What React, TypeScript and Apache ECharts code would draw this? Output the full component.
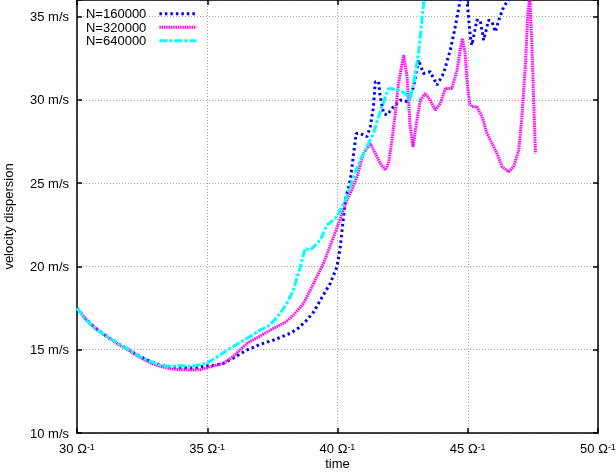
import React, { useEffect, useRef } from "react";
import * as echarts from "echarts";

const seriesNames = ["N=160000", "N=320000", "N=640000"];

const xTicks = [30, 35, 40, 45, 50];
const yTicks = [10, 15, 20, 25, 30, 35];

const n160000: number[][] = [
  [30.0, 17.5], [30.3, 16.9], [30.63, 16.4], [31.0, 15.95], [31.27, 15.68], [31.6, 15.35],
  [31.91, 15.08], [32.2, 14.8], [32.55, 14.5], [32.9, 14.25], [33.19, 14.08], [33.6, 13.98],
  [34.0, 13.92], [34.4, 13.9], [34.98, 14.02], [35.3, 14.08], [35.62, 14.18], [36.0, 14.5],
  [36.52, 14.98], [37.0, 15.3], [37.54, 15.58], [38.18, 15.98], [38.5, 16.3], [38.82, 16.78],
  [39.1, 17.3], [39.34, 17.98], [39.72, 18.98], [39.98, 19.98], [40.1, 21.09], [40.3, 23.98],
  [40.49, 25.18], [40.62, 26.79], [40.72, 27.99], [40.87, 27.99], [41.13, 27.79], [41.26, 28.39],
  [41.38, 29.59], [41.45, 31.09], [41.58, 31.09], [41.64, 30.19], [41.77, 29.19], [41.9, 29.09],
  [42.15, 29.59], [42.41, 29.99], [42.73, 29.89], [42.92, 30.79], [43.11, 32.4], [43.3, 31.59],
  [43.56, 31.69], [43.82, 30.89], [44.07, 31.59], [44.33, 32.99], [44.52, 34.39], [44.71, 36.0],
  [44.85, 36.8], [44.97, 36.0], [45.03, 35.0], [45.1, 33.79], [45.16, 33.29], [45.35, 34.79],
  [45.48, 34.79], [45.61, 33.59], [45.8, 34.79], [45.93, 34.69], [46.06, 34.09], [46.19, 34.79],
  [46.38, 35.6], [46.57, 36.0], [46.75, 36.6],
];

const n320000: number[][] = [
  [30.0, 17.5], [30.3, 16.9], [30.63, 16.38], [31.0, 15.95], [31.27, 15.66], [31.6, 15.3],
  [31.91, 15.05], [32.2, 14.75], [32.55, 14.42], [32.9, 14.15], [33.19, 14.0], [33.6, 13.85],
  [34.0, 13.8], [34.4, 13.78], [34.73, 13.8], [35.0, 13.92], [35.3, 14.05], [35.62, 14.18],
  [36.0, 14.6], [36.52, 15.38], [37.0, 15.8], [37.54, 16.28], [38.0, 16.65], [38.31, 17.08],
  [38.7, 17.78], [39.08, 18.98], [39.46, 20.18], [39.85, 21.78], [40.04, 22.58], [40.36, 23.98],
  [40.55, 24.6], [40.75, 25.4], [41.0, 26.79], [41.26, 27.39], [41.45, 26.79], [41.64, 26.19],
  [41.83, 25.79], [41.96, 26.19], [42.09, 27.59], [42.22, 29.19], [42.34, 30.99], [42.54, 32.69],
  [42.67, 31.39], [42.79, 28.39], [42.9, 27.19], [43.05, 28.79], [43.18, 29.99], [43.37, 30.39],
  [43.56, 29.99], [43.75, 29.39], [43.95, 29.79], [44.14, 30.69], [44.39, 30.69], [44.59, 31.79],
  [44.71, 32.99], [44.8, 33.69], [44.9, 32.79], [44.97, 31.19], [45.07, 29.79], [45.16, 29.59],
  [45.35, 29.59], [45.55, 28.99], [45.74, 27.99], [45.93, 27.39], [46.12, 26.79], [46.32, 25.99],
  [46.57, 25.69], [46.76, 25.99], [46.96, 26.99], [47.08, 28.99], [47.21, 31.99], [47.3, 34.99],
  [47.38, 36.3], [47.47, 32.99], [47.53, 29.99], [47.6, 26.79],
];

const n640000: number[][] = [
  [30.0, 17.5], [30.3, 16.85], [30.63, 16.35], [31.0, 15.95], [31.27, 15.68], [31.6, 15.35],
  [31.91, 15.08], [32.2, 14.8], [32.55, 14.48], [32.9, 14.25], [33.19, 14.08], [33.6, 14.0],
  [33.96, 14.05], [34.4, 14.0], [34.98, 14.18], [35.4, 14.6], [35.88, 15.08], [36.52, 15.68],
  [37.03, 16.18], [37.41, 16.48], [37.8, 17.18], [38.1, 17.9], [38.31, 18.6], [38.57, 19.98],
  [38.76, 21.09], [38.95, 20.98], [39.34, 21.58], [39.59, 22.48], [39.98, 22.98], [40.3, 23.98],
  [40.62, 25.38], [40.87, 26.39], [41.13, 27.18], [41.38, 27.99], [41.7, 29.59], [41.96, 30.69],
  [42.28, 30.63], [42.6, 30.4], [42.79, 29.99], [42.92, 30.99], [43.11, 32.8], [43.24, 34.79],
  [43.32, 36.0], [43.4, 37.0],
];

const FONT = "'Liberation Sans', Arial, Helvetica, sans-serif";

export default function App() {
  const ref = useRef<HTMLDivElement>(null);

  useEffect(() => {
    if (!ref.current) return;
    const chart = echarts.init(ref.current, null, { renderer: "svg" });

    const axisLineStyle = { color: "#000", width: 1.5 };
    const splitStyle = { color: "#a8a8a8", type: [1, 2] as number[], width: 1 };

    const mkSeries = (name: string, data: number[][], color: string, dash: number[]) => ({
      name,
      type: "line",
      data,
      showSymbol: false,
      symbol: "none",
      clip: true,
      lineStyle: { color, width: 3, type: dash },
      itemStyle: { color },
    });

    chart.setOption({
      animation: false,
      textStyle: { fontFamily: FONT },
      grid: { left: 77, right: 18, top: 0, bottom: 39, outerBoundsMode: "none", containLabel: false },
      legend: {
        orient: "vertical",
        align: "right",
        left: 86,
        top: 7,
        padding: 0,
        itemWidth: 37,
        itemHeight: 13.5,
        itemGap: 0,
        data: seriesNames,
        textStyle: { fontSize: 13, color: "#000", fontFamily: FONT, lineHeight: 13.5, padding: [0, 8, 0, 0] },
        lineStyle: { width: 3 },
        itemStyle: { color: "rgba(0,0,0,0)", opacity: 0, borderWidth: 0 },
      },
      xAxis: [
        {
          type: "value",
          min: xTicks[0],
          max: xTicks[xTicks.length - 1],
          interval: 5,
          name: "time",
          nameLocation: "middle",
          nameGap: 24,
          nameMoveOverlap: false,
          nameTextStyle: { fontSize: 13, lineHeight: 13, color: "#000", fontFamily: FONT },
          axisLine: { show: true, lineStyle: axisLineStyle },
          axisTick: { show: true, inside: true, length: 5, lineStyle: axisLineStyle },
          axisLabel: {
            margin: 9,
            formatter: (v: number) => `{n|${v} Ω}{s|-1}`,
            rich: {
              n: { fontSize: 13, color: "#000", fontFamily: FONT },
              s: { fontSize: 9, color: "#000", fontFamily: FONT, verticalAlign: "top" },
            },
          },
          splitLine: { show: true, lineStyle: splitStyle },
        },
        {
          type: "value",
          position: "top",
          min: xTicks[0],
          max: xTicks[xTicks.length - 1],
          interval: 5,
          axisLine: { show: true, lineStyle: axisLineStyle },
          axisTick: { show: true, inside: true, length: 5, lineStyle: axisLineStyle },
          axisLabel: { show: false },
          splitLine: { show: false },
        },
      ],
      yAxis: [
        {
          type: "value",
          min: yTicks[0],
          max: 36,
          interval: 5,
          name: "velocity dispersion",
          nameLocation: "middle",
          nameGap: 62,
          nameMoveOverlap: false,
          nameTextStyle: { fontSize: 13, color: "#000", fontFamily: FONT },
          axisLine: { show: true, lineStyle: axisLineStyle },
          axisTick: { show: true, inside: true, length: 5, lineStyle: axisLineStyle },
          axisLabel: {
            margin: 8,
            fontSize: 13,
            color: "#000",
            fontFamily: FONT,
            formatter: (v: number) => (yTicks.includes(v) ? `${v} m/s` : ""),
          },
          splitLine: { show: true, lineStyle: splitStyle },
        },
        {
          type: "value",
          position: "right",
          min: yTicks[0],
          max: 36,
          interval: 5,
          axisLine: { show: true, lineStyle: axisLineStyle },
          axisTick: { show: true, inside: true, length: 5, lineStyle: axisLineStyle },
          axisLabel: { show: false },
          splitLine: { show: false },
        },
      ],
      series: [
        mkSeries(seriesNames[0], n160000, "#0000ff", [2.5, 3]),
        mkSeries(seriesNames[1], n320000, "#ff00ff", [1.5, 0.8]),
        mkSeries(seriesNames[2], n640000, "#00ffff", [8, 2, 3, 2]),
      ],
    });

    return () => chart.dispose();
  }, []);

  return (
    <div
      ref={ref}
      style={{ position: "fixed", left: 0, top: 0, width: 616, height: 472 }}
    />
  );
}
